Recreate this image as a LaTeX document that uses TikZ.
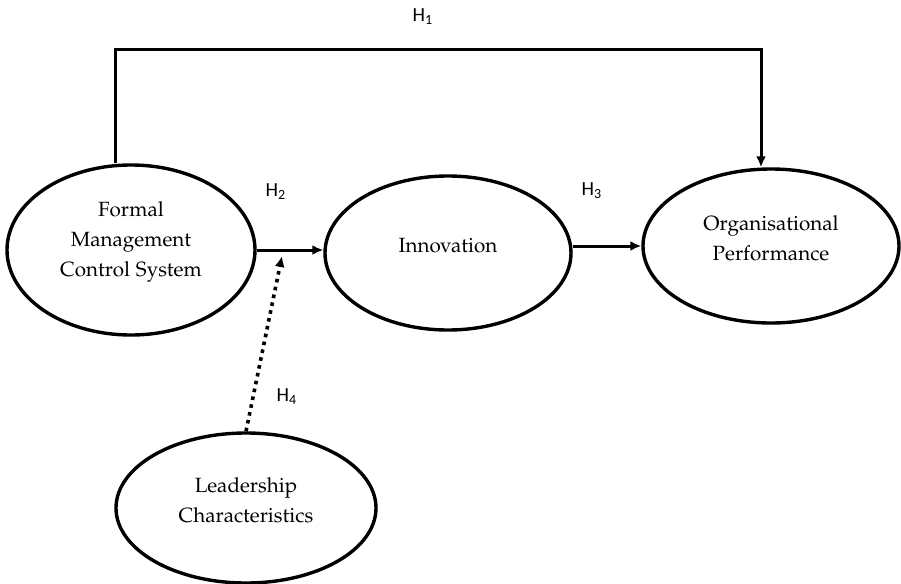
\documentclass[tikz,border=0pt]{standalone}
\usepackage{fontspec}
\newfontfamily\hypfont{Carlito}
\newcommand{\palfont}{\fontencoding{OT1}\fontfamily{pplx}\selectfont}
\usetikzlibrary{shapes.geometric,arrows.meta,positioning}
\tikzset{construct/.style={draw, ellipse, line width=1.7pt, inner sep=0pt},
  ctext/.style={align=center, font=\palfont\fontsize{10.3}{15}\selectfont, yshift=4pt},
  link/.style={line width=1.5pt, -{Latex[length=5.5pt,width=5pt]}},
  modlink/.style={link, line width=1.8pt, dash pattern=on 1.8pt off 2.2pt},
  hyp/.style={font=\hypfont\fontsize{10}{12}\selectfont}}

\begin{document}
\begin{tikzpicture}[x=0.5pt, y=-0.5pt]
  \useasboundingbox (0,0) rectangle (901,584);
  % constructs
  \node[construct, minimum width=124pt, minimum height=85pt,
    label={[ctext]center:Formal\\Management\\Control System}] (formal) at (131,250) {};
  \node[construct, minimum width=123pt, minimum height=77pt,
    label={[ctext]center:Innovation}] (innov) at (448,253) {};
  \node[construct, minimum width=128pt, minimum height=77pt,
    label={[ctext]center:Organisational\\Performance}] (perf) at (771,246) {};
  \node[construct, minimum width=130pt, minimum height=75pt,
    label={[ctext]center:Leadership\\Characteristics}] (lead) at (246,508) {};
  % hypotheses
  \node[hyp] (h1) at (423,17) {H\textsubscript{1}};
  \node[hyp] (h2) at (276,192) {H\textsubscript{2}};
  \node[hyp] (h3) at (592,191) {H\textsubscript{3}};
  \node[hyp] (h4) at (287,397) {H\textsubscript{4}};
  \coordinate (h1from) at ([xshift=-8pt]formal.north);
  \coordinate (h1to) at ([xshift=-5pt]perf.north);
  \coordinate (modend) at (282,256);
  \draw[link] (h1from) -- ++(0,-114) -| (h1to);
  \draw[link] (formal.east) -- (formal.east -| innov.west);
  \draw[link] (innov.east |- perf.west) -- (perf.west);
  \draw[modlink] (lead.north) -- (modend);
\end{tikzpicture}
\end{document}
